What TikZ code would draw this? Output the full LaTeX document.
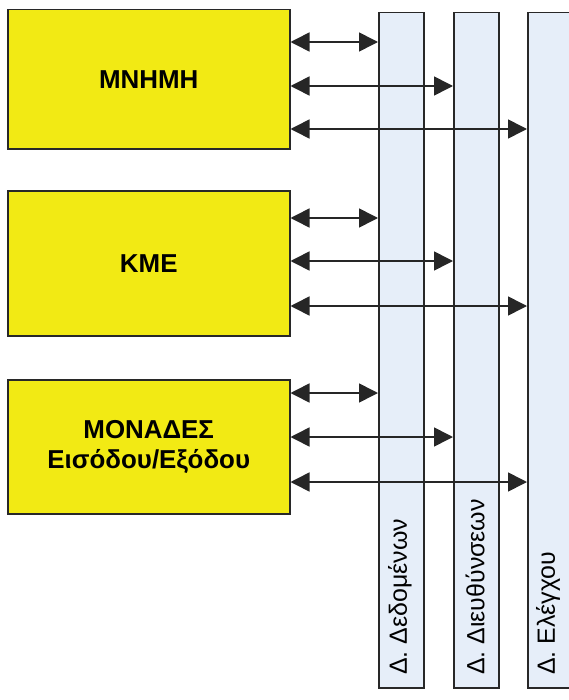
\documentclass[tikz,border=0pt]{standalone}
\usepackage{fontspec}
\setmainfont{Liberation Sans}
\usetikzlibrary{arrows.meta}
\usetikzlibrary{positioning}

\definecolor{unityellow}{RGB}{242,234,20}
\definecolor{busblue}{RGB}{230,238,249}
\definecolor{edgegray}{RGB}{40,40,40}

\begin{document}
\begin{tikzpicture}[x=1bp,y=-1bp,
    unit/.style={draw=edgegray,line width=1.5bp,fill=unityellow,minimum width=282bp,align=center,inner sep=0pt,font=\fontsize{26}{30}\selectfont\bfseries},
    bus/.style={draw=edgegray,line width=1.5bp,fill=busblue,minimum width=45bp,minimum height=675bp,inner sep=0pt,anchor=north west},
    buslabel/.style={rotate=90,anchor=west,inner sep=0pt,font=\fontsize{25}{28}\selectfont},
    link/.style={draw=black!85,line width=1.6bp,{Triangle[length=19bp,width=19bp]}-{Triangle[length=19bp,width=19bp]}}]
    \clip (0,0) rectangle (569,700);
    % buses
    \node[bus] (dbus) at (378,12) {};
    \node[bus] (abus) at (453,12) {};
    \node[bus] (cbus) at (527,12) {};
    \node[buslabel] (dlabel) at (400,675) {Δ. Δεδομένων};
    \node[buslabel] (alabel) at (475,675) {Δ. Διευθύνσεων};
    \node[buslabel] (clabel) at (548,675) {Δ. Ελέγχου};
    % units
    \node[unit,minimum height=139bp,anchor=north west] (mem) at (7,9) {ΜΝΗΜΗ};
    \node[unit,minimum height=145bp,anchor=north west] (cpu) at (7,190) {ΚΜΕ};
    \node[unit,minimum height=134bp,anchor=north west] (io) at (7,379) {ΜΟΝΑΔΕΣ\\Εισόδου/Εξόδου};
    % links
    \foreach \blk/\ya/\yb/\yc in {mem/42/86/129,cpu/218/261/306,io/393/437/482}{
        \draw[link] (\blk.east |- 0,\ya) -- (dbus.west |- 0,\ya);
        \draw[link] (\blk.east |- 0,\yb) -- (abus.west |- 0,\yb);
        \draw[link] (\blk.east |- 0,\yc) -- (cbus.west |- 0,\yc);
    }
\end{tikzpicture}
\end{document}
